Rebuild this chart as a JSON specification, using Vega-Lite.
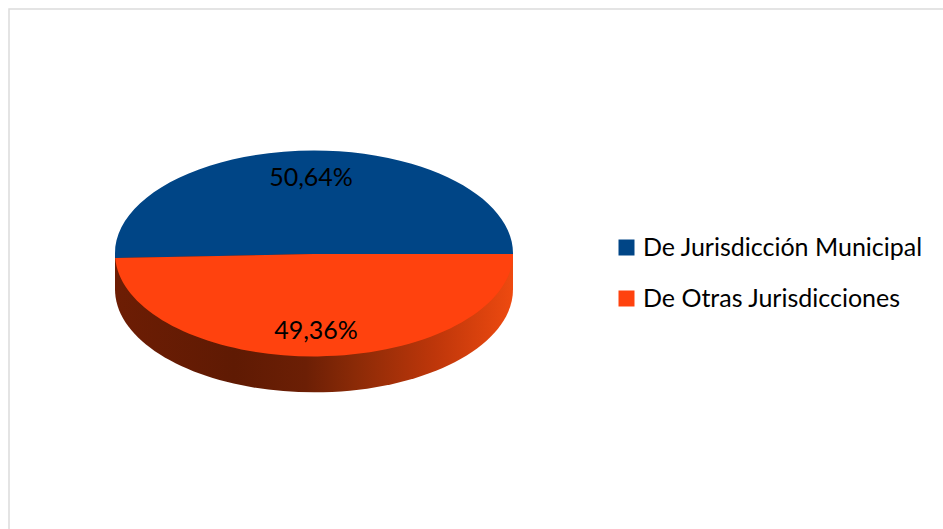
{
  "$schema": "https://vega.github.io/schema/vega-lite/v6.json",
  "width": 950,
  "height": 540,
  "autosize": "none",
  "padding": {"left": 9, "top": 9, "right": 0, "bottom": 0},
  "background": "white",
  "view": {"stroke": "#dcdcdc", "strokeWidth": 1.5, "fill": "white"},
  "data": {"values": [
    {"serie": "De Jurisdicción Municipal", "valor": 50.64, "etiqueta": "50,64%"},
    {"serie": "De Otras Jurisdicciones", "valor": 49.36, "etiqueta": "49,36%"}
  ]},
  "encoding": {
    "x": {"datum": 0, "type": "quantitative", "scale": {"domain": [-1, 1], "range": [0, 610]}, "axis": null},
    "y": {"datum": 0, "type": "quantitative", "scale": {"domain": [1, -1], "range": [0, 489]}, "axis": null},
    "color": {
      "field": "serie", "type": "nominal",
      "scale": {
        "domain": ["De Jurisdicción Municipal", "De Otras Jurisdicciones"],
        "range": ["#004586", "#ff420e"]
      },
      "legend": {
        "title": null, "orient": "none", "legendX": 605, "legendY": 226,
        "symbolType": "square", "symbolSize": 256, "symbolStrokeWidth": 0, "symbolOpacity": 1,
        "labelFont": "Lato", "labelFontSize": 25, "labelColor": "#000000", "labelOffset": 4,
        "rowPadding": 25, "labelLimit": 320
      }
    }
  },
  "layer": [
    {
      "transform": [{"filter": "datum.serie === 'De Otras Jurisdicciones'"}],
      "mark": {
        "type": "point", "filled": true, "opacity": 1, "size": 158404,
        "shape": "M -1,0 L -1,0.18 A 1 0.5176 0 0 0 1,0.18 L 1,0 Z",
        "fill": {
          "gradient": "linear", "x1": 0, "y1": 0, "x2": 1, "y2": 0,
          "stops": [
            {"offset": 0, "color": "#6d1d04"},
            {"offset": 0.3, "color": "#5f1a03"},
            {"offset": 0.48, "color": "#6c1f05"},
            {"offset": 0.6, "color": "#8a2a07"},
            {"offset": 0.8, "color": "#bd360a"},
            {"offset": 1, "color": "#ee4a10"}
          ]
        }
      },
      "encoding": {"color": {"value": null}}
    },
    {
      "transform": [{"filter": "datum.serie === 'De Jurisdicción Municipal'"}],
      "mark": {
        "type": "point", "filled": true, "opacity": 1, "size": 158404,
        "shape": "M 0,0.0025 L -0.999,0.0226 A 1 0.5176 0 1 1 1,0.0025 Z"
      }
    },
    {
      "transform": [{"filter": "datum.serie === 'De Otras Jurisdicciones'"}],
      "mark": {
        "type": "point", "filled": true, "opacity": 1, "size": 158404,
        "shape": "M 0,0.0025 L 1,0.0025 A 1 0.5176 0 0 1 -0.999,0.0226 Z"
      }
    },
    {
      "transform": [{"filter": "datum.serie === 'De Jurisdicción Municipal'"}],
      "mark": {"type": "text", "font": "Lato", "fontSize": 25, "color": "#000000", "dx": -3, "dy": -76},
      "encoding": {"text": {"field": "etiqueta", "type": "nominal"}, "color": {"value": "#000000"}}
    },
    {
      "transform": [{"filter": "datum.serie === 'De Otras Jurisdicciones'"}],
      "mark": {"type": "text", "font": "Lato", "fontSize": 25, "color": "#000000", "dx": 2, "dy": 77},
      "encoding": {"text": {"field": "etiqueta", "type": "nominal"}, "color": {"value": "#000000"}}
    }
  ]
}
